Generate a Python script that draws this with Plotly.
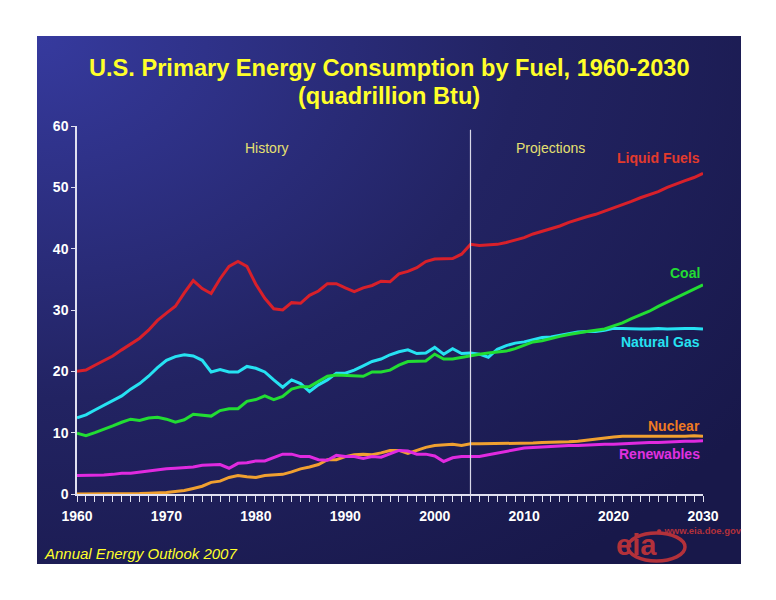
import base64
import plotly.graph_objects as go

# data (quadrillion Btu)
years = list(range(1960, 2031))

liquid_fuels = [20.0, 20.2, 21.0, 21.8, 22.5, 23.5, 24.5, 25.4, 26.7, 28.3,
                29.5, 30.6, 32.8, 34.8, 33.5, 32.7, 35.1, 37.1, 37.9, 37.1,
                34.2, 31.9, 30.2, 30.0, 31.2, 31.1, 32.4, 33.1, 34.3, 34.3,
                33.6, 33.0, 33.6, 34.0, 34.7, 34.6, 35.9, 36.3, 36.9, 37.9,
                38.3, 38.3, 38.4, 39.1, 40.7, 40.5, 40.6, 40.7, 41.0, 41.4,
                41.8, 42.4, 42.8, 43.3, 43.7, 44.3, 44.8, 45.2, 45.6, 46.1,
                46.6, 47.1, 47.7, 48.3, 48.8, 49.3, 50.0, 50.6, 51.1, 51.6,
                52.3]

natural_gas = [12.4, 12.9, 13.7, 14.5, 15.3, 16.0, 17.1, 18.0, 19.2, 20.6,
               21.8, 22.4, 22.7, 22.5, 21.8, 19.9, 20.3, 19.9, 19.9, 20.8,
               20.5, 19.9, 18.6, 17.4, 18.6, 18.0, 16.7, 17.8, 18.6, 19.7,
               19.7, 20.2, 20.9, 21.6, 22.0, 22.7, 23.2, 23.5, 22.9, 23.0,
               23.9, 22.8, 23.7, 22.9, 23.0, 22.8, 22.3, 23.6, 24.2, 24.6,
               24.8, 25.1, 25.5, 25.6, 25.9, 26.2, 26.4, 26.5, 26.5, 26.7,
               27.0, 27.0, 26.9, 26.9, 26.9, 27.0, 26.9, 27.0, 27.0, 27.0,
               26.9]

coal = [9.9, 9.5, 10.0, 10.5, 11.1, 11.7, 12.2, 12.0, 12.4, 12.5,
        12.2, 11.7, 12.1, 13.0, 12.8, 12.7, 13.6, 13.9, 13.9, 15.1,
        15.4, 16.0, 15.4, 15.9, 17.1, 17.5, 17.5, 18.4, 19.2, 19.4,
        19.3, 19.2, 19.2, 19.9, 19.9, 20.2, 21.0, 21.6, 21.7, 21.7,
        22.8, 22.0, 22.0, 22.3, 22.5, 22.8, 23.0, 23.2, 23.3, 23.7,
        24.3, 24.8, 25.0, 25.4, 25.7, 26.0, 26.3, 26.5, 26.7, 26.9,
        27.4, 27.9, 28.6, 29.2, 29.8, 30.6, 31.3, 32.0, 32.7, 33.4,
        34.1]

nuclear = [0.0, 0.0, 0.0, 0.0, 0.0, 0.04, 0.06, 0.09, 0.14, 0.15,
           0.24, 0.41, 0.58, 0.91, 1.27, 1.9, 2.1, 2.7, 3.0, 2.8,
           2.7, 3.0, 3.1, 3.2, 3.6, 4.1, 4.4, 4.8, 5.6, 5.6,
           6.1, 6.4, 6.5, 6.4, 6.7, 7.1, 7.1, 6.6, 7.1, 7.6,
           7.9, 8.0, 8.1, 7.9, 8.2, 8.2, 8.2, 8.3, 8.3, 8.2,
           8.3, 8.3, 8.4, 8.4, 8.4, 8.5, 8.6, 8.8, 9.0, 9.1,
           9.3, 9.4, 9.4, 9.4, 9.4, 9.3, 9.3, 9.4, 9.4, 9.5,
           9.4]

renewables = [3.0, 3.0, 3.05, 3.1, 3.2, 3.4, 3.4, 3.6, 3.7, 4.0,
              4.1, 4.2, 4.3, 4.4, 4.7, 4.7, 4.8, 4.2, 5.0, 5.1,
              5.4, 5.4, 5.9, 6.5, 6.5, 6.1, 6.1, 5.6, 5.5, 6.3,
              6.1, 6.1, 5.8, 6.1, 6.0, 6.6, 7.1, 7.0, 6.5, 6.5,
              6.2, 5.3, 5.9, 6.1, 6.1, 6.1, 6.4, 6.7, 6.9, 7.2,
              7.5, 7.6, 7.7, 7.8, 7.8, 7.9, 7.9, 8.0, 8.0, 8.1,
              8.1, 8.2, 8.3, 8.3, 8.4, 8.4, 8.5, 8.5, 8.6, 8.6,
              8.7]

last_history_year = 2004

series = [
    ("Liquid Fuels", liquid_fuels, "#d8202a", "#e23a2c", 54.8),
    ("Natural Gas", natural_gas, "#26e2f2", "#26e2f2", 24.8),
    ("Coal", coal, "#22dd33", "#22dd33", 36.0),
    ("Nuclear", nuclear, "#f0a030", "#f07a22", 11.1),
    ("Renewables", renewables, "#e02ae0", "#e030e0", 6.5),
]

# gradient backdrop as a small inline svg
bg_svg = """<svg xmlns='http://www.w3.org/2000/svg' width='704' height='528'>
<defs><radialGradient id='g' cx='0' cy='0' r='1.25' fx='0' fy='0'>
<stop offset='0' stop-color='#363a9e'/>
<stop offset='0.55' stop-color='#222362'/>
<stop offset='1' stop-color='#18184a'/>
</radialGradient></defs>
<rect width='704' height='528' fill='url(#g)'/></svg>"""
bg_src = "data:image/svg+xml;base64," + base64.b64encode(bg_svg.encode()).decode()

fig = go.Figure()

for name, vals, line_col, lab_col, lab_y in series:
    fig.add_trace(go.Scatter(x=years, y=vals, mode="lines", name=name,
                             line=dict(color=line_col, width=3),
                             showlegend=False))
    fig.add_annotation(x=2029.9, y=lab_y, text="<b>%s</b>" % name,
                       showarrow=False, xanchor="right",
                       font=dict(color=lab_col, size=14))

# page has an 8px body margin, so everything is laid out 8px up/left
OFF = 8
W, H = 776, 600
L, T = 77 - OFF, 126 - OFF
R = W - (703 - OFF)
B = H - (494 - OFF)
pw, ph = W - L - R, H - T - B


def px_x(p):
    return (p - OFF - L) / pw


def px_y(p):
    return (H - B - (p - OFF)) / ph


fig.add_layout_image(source=bg_src, xref="paper", yref="paper",
                     x=px_x(37), y=px_y(36), sizex=(741 - 37) / pw,
                     sizey=(564 - 36) / ph, sizing="stretch",
                     xanchor="left", yanchor="top", layer="below")

fig.add_shape(type="line", xref="x", yref="y", x0=last_history_year,
              x1=last_history_year, y0=0, y1=59.4,
              line=dict(color="#d8d8e8", width=1.2))

fig.add_annotation(x=1981.3, y=56.4, text="History", showarrow=False,
                   font=dict(color="#e6e070", size=14))
fig.add_annotation(x=2013.0, y=56.4, text="Projections", showarrow=False,
                   font=dict(color="#e6e070", size=14))

title_x = 0.5 * (px_x(37) + px_x(741))
fig.add_annotation(xref="paper", yref="paper", x=title_x,
                   y=px_y(68), yanchor="middle",
                   text="<b>U.S. Primary Energy Consumption by Fuel, 1960-2030</b>",
                   showarrow=False, font=dict(color="#ffff2a", size=23.6))
fig.add_annotation(xref="paper", yref="paper", x=title_x,
                   y=px_y(96), yanchor="middle",
                   text="<b>(quadrillion Btu)</b>",
                   showarrow=False, font=dict(color="#ffff2a", size=23.6))

fig.add_annotation(xref="paper", yref="paper", x=px_x(42), y=px_y(553),
                   xanchor="left", yanchor="middle",
                   text="<i>Annual Energy Outlook 2007</i>", showarrow=False,
                   font=dict(color="#ffff2a", size=15))

# eia logo
fig.add_shape(type="circle", xref="paper", yref="paper",
              x0=px_x(628), x1=px_x(685), y0=px_y(561), y1=px_y(533),
              line=dict(color="#b3313a", width=3.5))
fig.add_annotation(xref="paper", yref="paper", x=px_x(659), y=px_y(545),
                   yanchor="middle", text="<b>eia</b>", showarrow=False,
                   font=dict(color="#b3313a", size=29))
fig.add_annotation(xref="paper", yref="paper", x=px_x(654), y=px_y(530),
                   xanchor="left", yanchor="middle",
                   text="<b>● www.eia.doe.gov</b>", showarrow=False,
                   font=dict(color="#b3313a", size=9.5))

fig.update_layout(
    width=W, height=H,
    margin=dict(l=L, r=R, t=T, b=B, pad=0),
    paper_bgcolor="white",
    plot_bgcolor="rgba(0,0,0,0)",
    font=dict(family="Liberation Sans, Arial, sans-serif", color="white"),
    xaxis=dict(range=[1960, 2030], dtick=10, tick0=1960, showgrid=False,
               zeroline=False, showline=True, linecolor="#e0e0f0",
               linewidth=1.5, ticks="outside", ticklen=6,
               tickcolor="#e0e0f0", tickwidth=1, ticklabelstandoff=2,
               tickfont=dict(size=14, color="white"),
               tickprefix="<b>", ticksuffix="</b>",
               minor=dict(dtick=1, tick0=1960, ticks="outside", ticklen=6,
                          tickcolor="#e0e0f0", tickwidth=1, showgrid=False)),
    yaxis=dict(range=[0, 60], dtick=10, showgrid=False, zeroline=False,
               showline=True, linecolor="#e0e0f0", linewidth=1.5,
               ticks="outside", ticklen=4, tickcolor="#e0e0f0",
               tickfont=dict(size=14, color="white"),
               tickprefix="<b>", ticksuffix="</b>"),
)

fig.write_html("out.html")
